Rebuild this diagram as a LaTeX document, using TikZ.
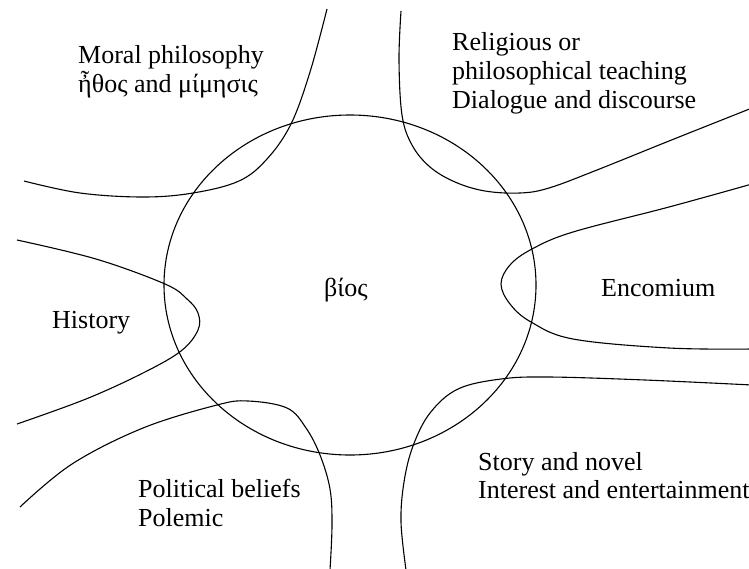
\documentclass[tikz,border=0pt]{standalone}
\usepackage{fontspec}
\setmainfont{Liberation Serif}
\begin{document}
\begin{tikzpicture}[x=1pt,y=-1pt,
  curve/.style={line width=1.1pt,black},
  lbl/.style={anchor=base west,inner sep=0pt,font=\fontsize{26}{29}\selectfont}]
\useasboundingbox (0,0) rectangle (749,568);
\begin{scope}
\clip (0,0) rectangle (749,568);
% central circle
\draw[curve] (350,285) ellipse [x radius=186pt, y radius=170pt];
% moral philosophy
\draw[curve] plot[smooth,tension=0.6] coordinates {(24,181) (80,193) (143,197) (193,193) (239,181) (267,159) (291,124) (310,72) (327,9)};
% religious
\draw[curve] plot[smooth,tension=0.6] coordinates {(401,11) (399,60) (402,115) (412,145) (430,167) (455,182) (485,191) (520,193) (549,188) (597,170) (669,141) (752,108)};
% encomium
\draw[curve] plot[smooth,tension=0.6] coordinates {(752,184) (669,207) (573,232) (532,249) (510,265) (501,284) (510,304) (531,322) (573,339) (669,348) (752,349)};
% history
\draw[curve] plot[smooth,tension=0.6] coordinates {(17,240) (96,259) (165,284) (187,299) (198,313) (198,330) (181,351) (143,373) (86,399) (17,424)};
% political
\draw[curve] plot[smooth,tension=0.6] coordinates {(20,507) (72,464) (143,428) (217,405) (248,401) (287,408) (306,428) (320,455) (330,489) (332,525) (330,570)};
% story
\draw[curve] plot[smooth,tension=0.6] coordinates {(406,570) (401,522) (404,482) (413,446) (430,413) (458,389) (501,379) (549,377) (645,380) (752,385)};
\end{scope}
% labels
\node[lbl] (moral1) at (78,63) {Moral philosophy};
\node[lbl] (moral2) at (78,92) {ἦθος and μίμησις};
\node[lbl] (rel1) at (452,50) {Religious or};
\node[lbl] (rel2) at (452,79) {philosophical teaching};
\node[lbl] (rel3) at (452,108) {Dialogue and discourse};
\node[lbl] (bios) at (324,296) {βίος};
\node[lbl] (hist) at (52,328) {History};
\node[lbl] (enc) at (601,296) {Encomium};
\node[lbl] (pol1) at (138,497) {Political beliefs};
\node[lbl] (pol2) at (138,526) {Polemic};
\node[lbl] (story1) at (478,470) {Story and novel};
\node[lbl] (story2) at (478,498) {Interest and entertainment};
\end{tikzpicture}
\end{document}
